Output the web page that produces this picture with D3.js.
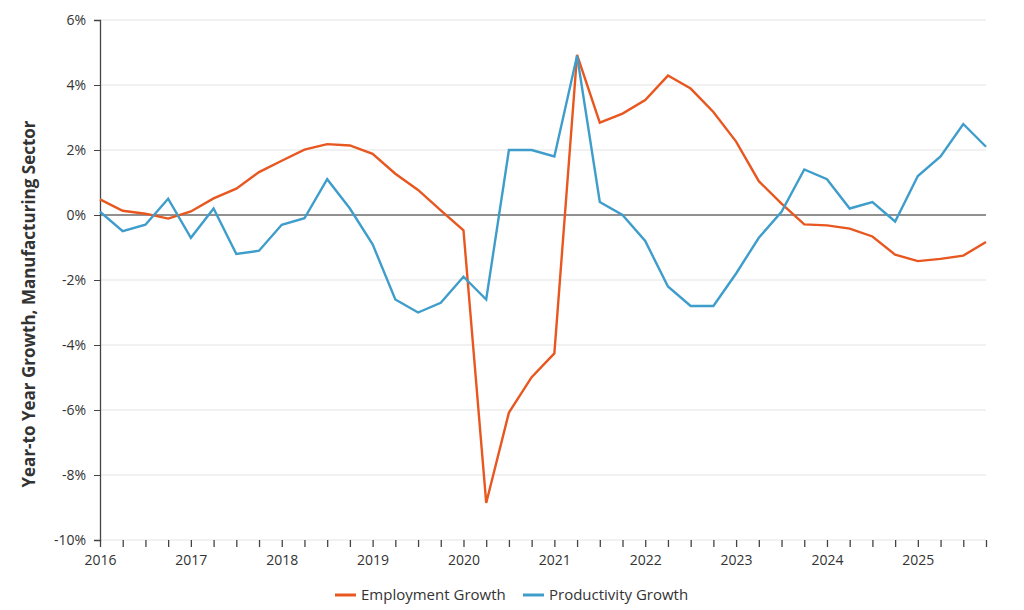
<!DOCTYPE html>
<html>
<head>
    <title>Manufacturing Employment and Productivity Growth</title>
    <script src="https://d3js.org/d3.v7.min.js"></script>
    <style>
        body { margin: 0; background: #fff; }
        svg { font-family: "Open Sans", sans-serif; }
    </style>
</head>
<body>
    <svg width="1024" height="610"></svg>

    <script>
    // quarterly, 2016 Q1 .. 2025 Q4
    const quarters = d3.range(2016, 2026).flatMap(y => [0, 1, 2, 3].map(q => y + q / 4));

    const employment = [
        0.48, 0.13, 0.04, -0.11, 0.11, 0.51, 0.81, 1.32, 1.67, 2.01,
        2.18, 2.14, 1.88, 1.27, 0.77, 0.14, -0.47, -8.86, -6.08, -4.99,
        -4.26, 4.93, 2.84, 3.12, 3.54, 4.29, 3.89, 3.17, 2.26, 1.04,
        0.35, -0.29, -0.32, -0.42, -0.66, -1.22, -1.42, -1.35, -1.25, -0.83
    ];

    const productivity = [
        0.1, -0.5, -0.3, 0.5, -0.7, 0.2, -1.2, -1.1, -0.3, -0.1,
        1.1, 0.2, -0.9, -2.6, -3.0, -2.7, -1.9, -2.6, 2.0, 2.0,
        1.8, 4.9, 0.4, 0.0, -0.8, -2.2, -2.8, -2.8, -1.8, -0.7,
        0.1, 1.4, 1.1, 0.2, 0.4, -0.2, 1.2, 1.8, 2.8, 2.1
    ];

    const yTicks = [-10, -8, -6, -4, -2, 0, 2, 4, 6];
    const yearLabels = d3.range(2016, 2026);

    const series = [
        { name: "Employment Growth", values: employment, color: "#e8571f" },
        { name: "Productivity Growth", values: productivity, color: "#3e9dcb" }
    ];

    const svg = d3.select("svg");
    const margin = { top: 20, right: 38, bottom: 70, left: 100 };
    const width = 1024 - margin.left - margin.right;
    const height = 610 - margin.top - margin.bottom;

    const g = svg.append("g").attr("transform", `translate(${margin.left},${margin.top})`);

    const x = d3.scaleLinear()
        .domain([quarters[0], quarters[quarters.length - 1]])
        .range([0, width]);

    const y = d3.scaleLinear()
        .domain([-10, 6])
        .range([height, 0]);

    // gridlines
    g.append("g")
        .selectAll("line")
        .data(yTicks)
        .enter().append("line")
        .attr("x1", 0)
        .attr("x2", width)
        .attr("y1", d => y(d))
        .attr("y2", d => y(d))
        .attr("stroke", d => d === 0 ? "#222" : "#e3e3e3")
        .attr("stroke-width", 1.2);

    // y axis
    const yAxis = g.append("g")
        .call(d3.axisLeft(y).tickValues(yTicks).tickFormat(d => d + "%").tickSize(6).tickPadding(8));
    yAxis.select(".domain").attr("stroke", "#444").attr("stroke-width", 1.3);
    yAxis.selectAll(".tick line").attr("stroke", "#444");

    // x axis: a tick each quarter, labels at each year
    const xAxis = g.append("g")
        .attr("transform", `translate(0,${height})`)
        .call(d3.axisBottom(x)
            .tickValues(quarters)
            .tickSize(7)
            .tickPadding(8)
            .tickFormat(d => yearLabels.includes(d) ? d : ""));
    xAxis.select(".domain").remove();
    xAxis.selectAll(".tick line").attr("stroke", "#444").attr("stroke-width", 1.3);

    [xAxis, yAxis].forEach(a => a
        .attr("font-family", "Open Sans, sans-serif")
        .attr("font-size", 14));
    g.selectAll(".tick text").attr("fill", "#333");

    // lines
    const line = d3.line()
        .x((d, i) => x(quarters[i]))
        .y(d => y(d));

    g.selectAll(".series")
        .data(series)
        .enter().append("path")
        .attr("class", "series")
        .attr("fill", "none")
        .attr("stroke", d => d.color)
        .attr("stroke-width", 2.4)
        .attr("stroke-linejoin", "miter")
        .attr("d", d => line(d.values));

    // y axis title
    svg.append("text")
        .attr("transform", `translate(35,${margin.top + height / 2 + 24}) rotate(-90)`)
        .attr("text-anchor", "middle")
        .style("font-size", "17px")
        .style("font-weight", "bold")
        .style("fill", "#333")
        .text("Year-to Year Growth, Manufacturing Sector");

    // legend
    const legend = svg.append("g").attr("transform", "translate(335,595)");
    const offsets = [0, 188];
    series.forEach((s, i) => {
        const item = legend.append("g").attr("transform", `translate(${offsets[i]},0)`);
        item.append("line")
            .attr("x1", 0).attr("x2", 21)
            .attr("y1", 0).attr("y2", 0)
            .attr("stroke", s.color)
            .attr("stroke-width", 3);
        item.append("text")
            .attr("x", 26)
            .attr("y", 5)
            .style("font-size", "15px")
            .style("fill", "#333")
            .text(s.name);
    });
    </script>
</body>
</html>
